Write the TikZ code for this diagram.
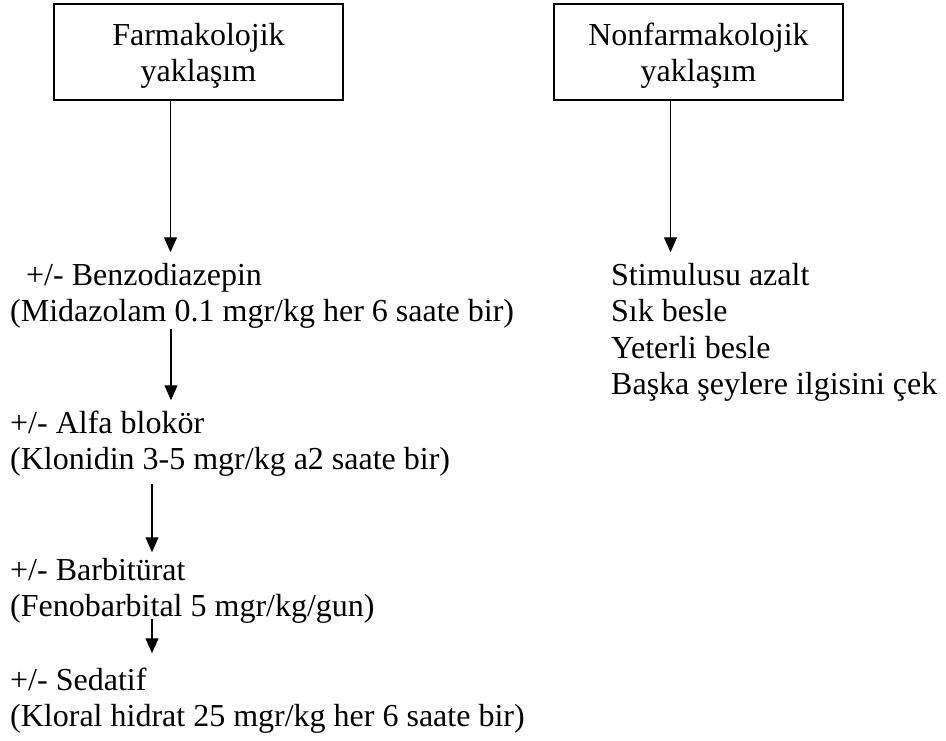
\documentclass[tikz,border=0pt]{standalone}
\usepackage{fontspec}
\setmainfont{Liberation Serif}
\usetikzlibrary{arrows.meta}
\begin{document}
\begin{tikzpicture}[x=1pt,y=-1pt,
    font=\fontsize{32}{36.5}\selectfont,
    kutu/.style={draw,line width=1.5pt,minimum width=289pt,minimum height=96pt,inner sep=0pt},
    metin/.style={anchor=base west,inner sep=0pt},
    ok/.style={-{Triangle[length=15pt,width=13pt]},line width=1.4pt}]
    % kutu içi yazı (biraz aşağı)
    \def\kutuyazi#1{\raisebox{-4pt}[\height][\depth]{\begin{tabular}{@{}c@{}}#1\end{tabular}}}

    % sayfa sınırı
    \useasboundingbox (0,0) rectangle (946,740);

    % üstteki iki kutu
    \node[kutu] (farma) at (198.5,52) {\kutuyazi{Farmakolojik\\yaklaşım}};
    \node[kutu] (nonfarma) at (698.5,52) {\kutuyazi{Nonfarmakolojik\\yaklaşım}};

    % sol sütun: ilaçlar
    \node[metin] (benzo) at (10,285) {\begin{tabular}[t]{@{}l@{}}\hspace*{16pt}+/- Benzodiazepin\\(Midazolam 0.1 mgr/kg her 6 saate bir)\end{tabular}};
    \node[metin] (alfa) at (10,433) {\begin{tabular}[t]{@{}l@{}}+/- Alfa blokör\\(Klonidin 3-5 mgr/kg a2 saate bir)\end{tabular}};
    \node[metin] (barb) at (10,580) {\begin{tabular}[t]{@{}l@{}}+/- Barbitürat\\(Fenobarbital 5 mgr/kg/gun)\end{tabular}};
    \node[metin] (sedatif) at (10,690) {\begin{tabular}[t]{@{}l@{}}+/- Sedatif\\(Kloral hidrat 25 mgr/kg her 6 saate bir)\end{tabular}};

    % sağ sütun
    \node[metin] (liste) at (611,285) {\begin{tabular}[t]{@{}l@{}}Stimulusu azalt\\Sık besle\\Yeterli besle\\Başka şeylere ilgisini çek\end{tabular}};

    % oklar
    \draw[ok,shorten >=7pt] ([xshift=-28pt]farma.south) -- ([xshift=-28pt]farma.south |- benzo.north);
    \draw[ok,shorten <=-4pt,shorten >=7pt] ([xshift=161pt]benzo.south west) -- ([xshift=161pt]benzo.south west |- alfa.north);
    \draw[ok,shorten <=3pt,shorten >=2pt] ([xshift=142pt]alfa.south west) -- ([xshift=142pt]alfa.south west |- barb.north);
    \draw[ok,shorten <=-9pt,shorten >=11pt] ([xshift=142pt]barb.south west) -- ([xshift=142pt]barb.south west |- sedatif.north);
    \draw[ok,shorten >=7pt] ([xshift=-28pt]nonfarma.south) -- ([xshift=-28pt]nonfarma.south |- liste.north);

\end{tikzpicture}
\end{document}
